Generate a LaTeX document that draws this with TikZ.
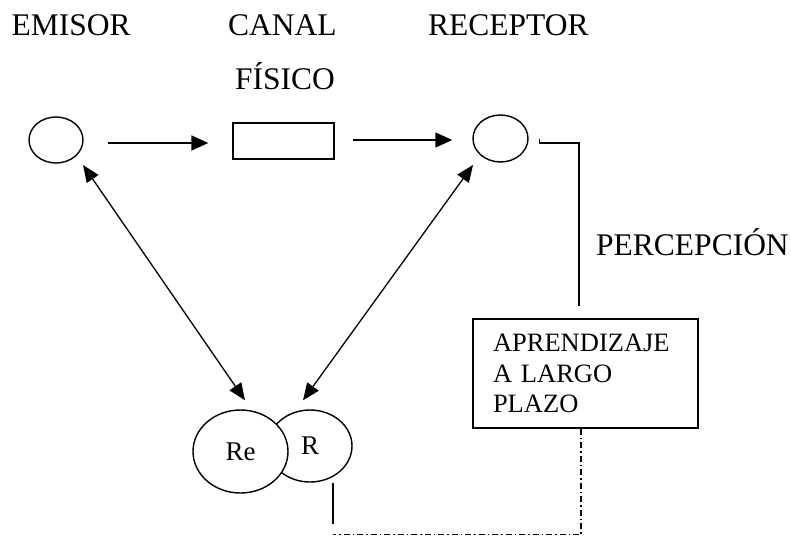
\documentclass[tikz,border=0pt]{standalone}
\usepackage{fontspec}
\setmainfont{Liberation Serif}
\usetikzlibrary{arrows.meta,shapes.geometric,calc}
\begin{document}
\begin{tikzpicture}[x=1pt,y=-1pt,
  lbl/.style={font=\fontsize{31.5}{36}\selectfont, inner sep=0pt, anchor=base west},
  ell/.style={ellipse, draw, line width=1.4pt, inner sep=0pt},
  ln/.style={line width=1.4pt},
  arr/.style={line width=1.8pt, -{Triangle[length=17pt,width=15pt]}},
  darr/.style={line width=1.3pt, {Triangle[length=17pt,width=14pt]}-{Triangle[length=17pt,width=14pt]}},
  dd/.style={line width=1.5pt, dash pattern=on 6pt off 3pt on 1.5pt off 3pt}]
\useasboundingbox (0,0) rectangle (791,538);
% labels
\node[lbl] (t1) at (11.5,35) {EMISOR};
\node[lbl] (t2) at (228,35) {CANAL};
\node[lbl] (t3) at (428,35) {RECEPTOR};
\node[lbl] (t4) at (235,89) {FÍSICO};
\node[lbl] (t5) at (596,255) {PERCEPCIÓN};
% shapes
\node[ell, minimum width=54pt, minimum height=46pt] (emisor) at (56,140) {};
\node[draw, ln, minimum width=101pt, minimum height=36pt, inner sep=0pt] (canal) at (283.5,141) {};
\node[ell, minimum width=55pt, minimum height=47pt] (receptor) at (500.5,138.5) {};
\node[draw, ln, minimum width=225pt, minimum height=109pt, text width=185pt, inner xsep=20pt, inner ysep=0pt, align=left, font=\fontsize{26.5}{30.5}\selectfont] (box) at (585.5,373.5) {APRENDIZAJE\\A LARGO\\PLAZO};
\node[ell, fill=white, minimum width=84pt, minimum height=72pt, font=\fontsize{27}{30}\selectfont] (R) at (310,446) {R\hspace{10pt}};
\node[ell, fill=white, minimum width=95pt, minimum height=83pt, font=\fontsize{27}{30}\selectfont] (Re) at (240.5,451.5) {Re\hspace{8pt}};
% arrows
\draw[arr] ([shift={(24,3)}]emisor.east) -- ([shift={(-24,2)}]canal.west);
\draw[arr, line width=1.4pt] ([shift={(18,-1)}]canal.east) -- ([shift={(-20,1.5)}]receptor.west);
\draw[darr] ([shift={(27,25)}]emisor.center) -- ([shift={(4.5,-9)}]Re.north);
\draw[darr] ([shift={(-7,-9)}]R.north) -- ([shift={(-27.5,26.5)}]receptor.center);
% perception connector
\draw[ln] ([xshift=11pt]receptor.east) -- ++(0,4.5) -| ([shift={(-6.5,-12)}]box.north);
% long-term connector
\draw[ln] ([xshift=23pt]R.south) -- ++(0,41);
\draw[dd] ([shift={(-4.5,0)}]box.south) -- ++(0,106) -| ([shift={(23,52)}]R.south);
\end{tikzpicture}
\end{document}
